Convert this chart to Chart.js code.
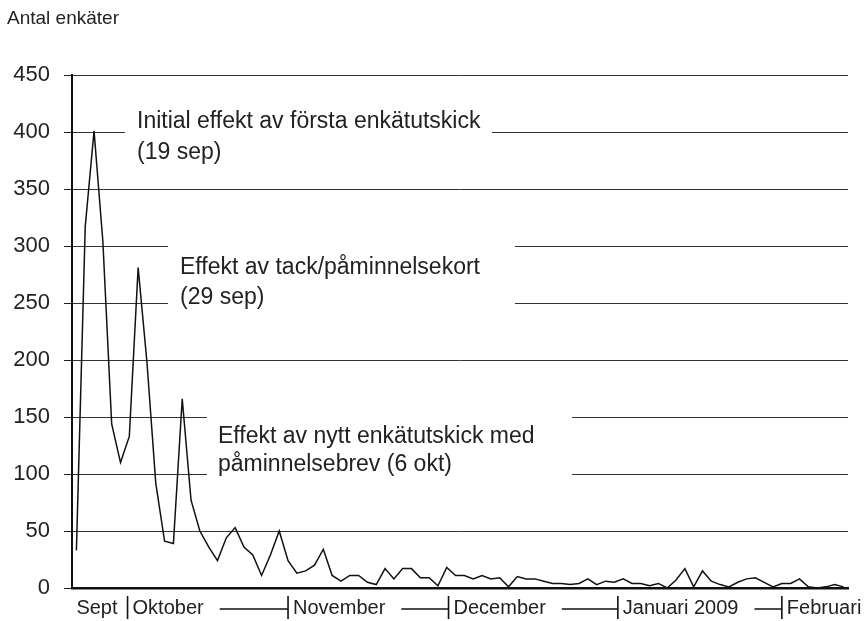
<!DOCTYPE html>
<html>
<head>
<meta charset="utf-8">
<script src="https://cdn.jsdelivr.net/npm/chart.js@4/dist/chart.umd.min.js"></script>
<style>
  body { margin: 0; background: #fff; }
  canvas { display: block; }
</style>
</head>
<body>
<canvas id="enkatChart" width="865" height="621"></canvas>
<script>
// Antal enkäter per mättillfälle (sept 2008 - feb 2009)
const counts = [
  33, 317, 401, 304, 144, 110, 133, 281, 198, 92,
  41, 39, 166, 77, 50, 36, 24, 44, 53, 36,
  29, 11, 29, 50, 24, 13, 15, 20, 34, 11,
  6, 11, 11, 5, 3, 17, 8, 17, 17, 9,
  9, 2, 18, 11, 11, 8, 11, 8, 9, 1,
  10, 8, 8, 6, 4, 4, 3, 4, 8, 3,
  6, 5, 8, 4, 4, 2, 4, 0, 7, 17,
  1, 15, 6, 3, 1, 5, 8, 9, 5, 1,
  4, 4, 8, 1, 0, 1, 3, 1
];
const categories = counts.map((_, i) => String(i + 1));

const yTickValues = [0, 50, 100, 150, 200, 250, 300, 350, 400, 450];

// month labels and where each month starts (in point index units)
const monthLabels = ['Sept', 'Oktober', 'November', 'December', 'Januari 2009', 'Februari'];
const monthStarts = [5.8, 24, 42.2, 61.4, 80];

const yTitle = 'Antal enkäter';
const noteTexts = [
  ['Initial effekt av första enkätutskick', '(19 sep)'],
  ['Effekt av tack/påminnelsekort', '(29 sep)'],
  ['Effekt av nytt enkätutskick med', 'påminnelsebrev (6 okt)']
];

const FONT = '"Liberation Sans", Arial, Helvetica, sans-serif';
const TEXT = '#222';

const overlay = {
  id: 'overlay',
  beforeDatasetsDraw(chart) {
    const ctx = chart.ctx;
    // text boxes that cut the gridlines
    const boxes = [
      { x0: 125, y0: 108, x1: 492, y1: 168, tx: 137, ty: [122, 153] },
      { x0: 168, y0: 236, x1: 515, y1: 316, tx: 180, ty: [268, 298] },
      { x0: 207, y0: 406, x1: 572, y1: 484, tx: 218, ty: [437, 465] }
    ];
    ctx.save();
    boxes.forEach((b, i) => {
      ctx.fillStyle = '#fff';
      ctx.fillRect(b.x0, b.y0, b.x1 - b.x0, b.y1 - b.y0);
      ctx.fillStyle = TEXT;
      ctx.font = '23px ' + FONT;
      ctx.textAlign = 'left';
      ctx.textBaseline = 'middle';
      noteTexts[i].forEach((line, j) => ctx.fillText(line, b.tx, b.ty[j]));
    });
    ctx.restore();
  },
  afterDraw(chart) {
    const ctx = chart.ctx;
    const xs = chart.scales.x;
    ctx.save();
    ctx.fillStyle = TEXT;
    ctx.font = '19px ' + FONT;
    ctx.textBaseline = 'middle';
    ctx.textAlign = 'left';
    ctx.fillText(yTitle, 7, 19);

    // x axis month labels with separators
    const yMid = 608;
    ctx.font = '20px ' + FONT;
    ctx.strokeStyle = '#111';
    const bounds = monthStarts.map(v => xs.getPixelForValue(v));
    ctx.textAlign = 'right';
    ctx.fillText(monthLabels[0], bounds[0] - 10, yMid);
    ctx.textAlign = 'left';
    for (let i = 1; i < monthLabels.length; i++) {
      const x = bounds[i - 1] + 5;
      ctx.fillText(monthLabels[i], x, yMid);
      const end = x + ctx.measureText(monthLabels[i]).width;
      if (i < monthLabels.length - 1) {
        ctx.lineWidth = 1.5;
        ctx.beginPath();
        ctx.moveTo(end + 16, yMid + 1);
        ctx.lineTo(bounds[i], yMid + 1);
        ctx.stroke();
      }
    }
    ctx.lineWidth = 1.6;
    bounds.forEach(bx => {
      ctx.beginPath();
      ctx.moveTo(bx, 596);
      ctx.lineTo(bx, 619);
      ctx.stroke();
    });
    ctx.restore();
  }
};

new Chart(document.getElementById('enkatChart'), {
  type: 'line',
  data: {
    labels: categories,
    datasets: [{
      data: counts,
      borderColor: '#111',
      borderWidth: 1.5,
      pointRadius: 0,
      tension: 0,
      fill: false
    }]
  },
  options: {
    responsive: false,
    animation: false,
    devicePixelRatio: 1,
    layout: { padding: { top: 75, right: 17, left: 0, bottom: 0 } },
    plugins: { legend: { display: false }, tooltip: { enabled: false } },
    scales: {
      x: {
        type: 'category',
        offset: true,
        grid: { display: true, color: 'rgba(0,0,0,0)', drawTicks: false },
        border: { display: true, color: '#111', width: 2.5 },
        ticks: { display: false },
        afterFit(axis) { axis.height = 33; }
      },
      y: {
        min: 0,
        max: 450,
        afterBuildTicks(axis) { axis.ticks = yTickValues.map(v => ({ value: v })); },
        grid: { color: '#333', lineWidth: 1, tickLength: 8, tickColor: '#222' },
        border: { display: true, color: '#111', width: 2 },
        ticks: { color: TEXT, font: { family: FONT, size: 22 }, padding: 14 },
        afterFit(axis) { axis.width = 72; }
      }
    }
  },
  plugins: [overlay]
});
</script>
</body>
</html>
